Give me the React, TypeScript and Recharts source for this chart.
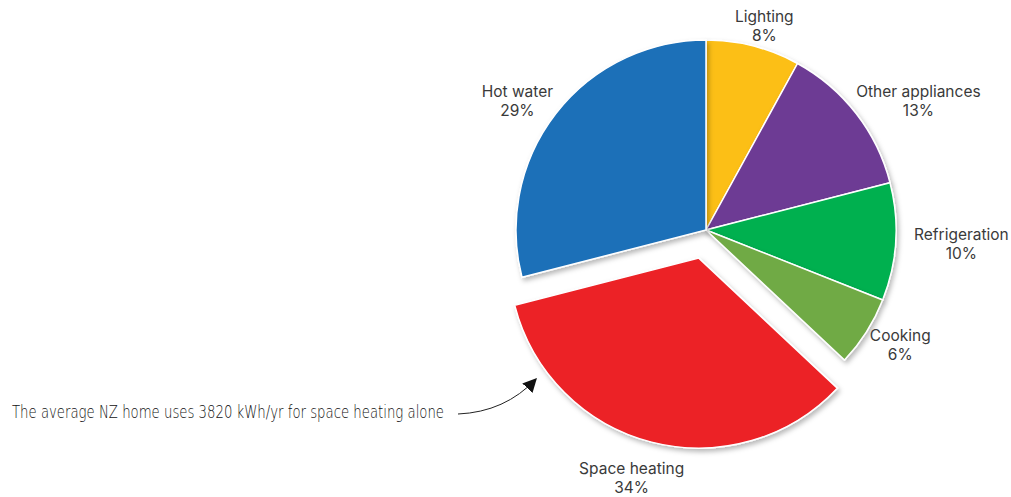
import React from 'react';
import { PieChart, Pie, Cell } from 'recharts';

const categories = ['Lighting', 'Other appliances', 'Refrigeration', 'Cooking', 'Space heating', 'Hot water'];
const shares = [8, 13, 10, 6, 34, 29];
const colors = ['#FCBF14', '#6D3A94', '#00B04F', '#6FAA45', '#EC2026', '#1B6FB8'];
const exploded = 'Space heating';
const note = 'The average NZ home uses 3820 kWh/yr for space heating alone';

const data = categories.map((name, i) => ({ name, value: shares[i] }));

const W = 1011;
const H = 497;
const CX = 706;
const CY = 230;
const R = 190;
const PULL = 29;
const RAD = Math.PI / 180;

// mid angle of the exploded slice (recharts angles: ccw from 3 o'clock, starting at 90)
const total = shares.reduce((a, b) => a + b, 0);
const exIdx = categories.indexOf(exploded);
const before = shares.slice(0, exIdx).reduce((a, b) => a + b, 0);
const exMid = 90 - ((before + shares[exIdx] / 2) / total) * 360;
const exCx = CX + Math.cos(exMid * RAD) * PULL;
const exCy = CY - Math.sin(exMid * RAD) * PULL;

const FONT = 'Inter, "Noto Sans", sans-serif';

const makeLabel = (onlyExploded: boolean) => (props: any) => {
  const { cx, cy, midAngle, outerRadius, name, value, index } = props;
  if ((name === exploded) !== onlyExploded) return null;
  const dx = Math.cos(midAngle * RAD);
  const dy = -Math.sin(midAngle * RAD);
  const w = name.length * 8.6;
  const h = 24;
  const gap = onlyExploded ? 24 : 10;
  const px = cx + dx * (outerRadius + gap) + (dx * w) / 2;
  const py = cy + dy * (outerRadius + gap) + (dy * h) / 2;
  return (
    <text key={`lbl-${index}`} x={px} y={py} textAnchor="middle" fill="#3a3a3a" fontFamily={FONT} fontSize={15.5}>
      <tspan x={px} dy={-3}>{name}</tspan>
      <tspan x={px} dy={19}>{`${value}%`}</tspan>
    </text>
  );
};

const App: React.FC = () => {
  return (
    <div style={{ position: 'absolute', left: 0, top: 0, width: W, height: H, background: '#fff' }}>
      <svg width={0} height={0} style={{ position: 'absolute' }}>
        <defs>
          <filter id="sliceShadow" x="-20%" y="-20%" width="140%" height="140%">
            <feDropShadow dx={2} dy={3} stdDeviation={2.5} floodColor="#000" floodOpacity={0.28} />
          </filter>
        </defs>
      </svg>
      <PieChart width={W} height={H} margin={{ top: 0, right: 0, bottom: 0, left: 0 }}>
        <Pie
          data={data}
          dataKey="value"
          nameKey="name"
          cx={CX}
          cy={CY}
          outerRadius={R}
          startAngle={90}
          endAngle={-270}
          stroke="#fff"
          strokeWidth={1.5}
          label={makeLabel(false)}
          labelLine={false}
          isAnimationActive={false}
        >
          {data.map((d, i) => (
            <Cell
              key={d.name}
              fill={d.name === exploded ? 'transparent' : colors[i]}
              stroke={d.name === exploded ? 'transparent' : '#fff'}
              filter="url(#sliceShadow)"
            />
          ))}
        </Pie>
        <Pie
          data={data}
          dataKey="value"
          nameKey="name"
          cx={exCx}
          cy={exCy}
          outerRadius={R}
          startAngle={90}
          endAngle={-270}
          stroke="#fff"
          strokeWidth={1.5}
          label={makeLabel(true)}
          labelLine={false}
          isAnimationActive={false}
        >
          {data.map((d, i) => (
            <Cell
              key={d.name}
              fill={d.name === exploded ? colors[i] : 'transparent'}
              stroke={d.name === exploded ? '#fff' : 'transparent'}
              filter="url(#sliceShadow)"
            />
          ))}
        </Pie>
      </PieChart>
      <svg width={W} height={H} style={{ position: 'absolute', left: 0, top: 0, pointerEvents: 'none' }}>
        <defs>
          <marker id="arrowHead" viewBox="0 0 10 10" refX={9} refY={5} markerWidth={14} markerHeight={14} markerUnits="userSpaceOnUse" orient="auto">
            <path d="M0,0 L10,5 L0,10 z" fill="#111" />
          </marker>
        </defs>
        <text
          x={12}
          y={418}
          fontFamily='"DejaVu Sans", sans-serif'
          fontWeight={200}
          fontSize={17}
          fill="#111"
          textLength={432}
          lengthAdjust="spacingAndGlyphs"
        >
          {note}
        </text>
        <path d="M458,414 Q505,412 536,379" fill="none" stroke="#222" strokeWidth={1} markerEnd="url(#arrowHead)" />
      </svg>
    </div>
  );
};

export default App;
